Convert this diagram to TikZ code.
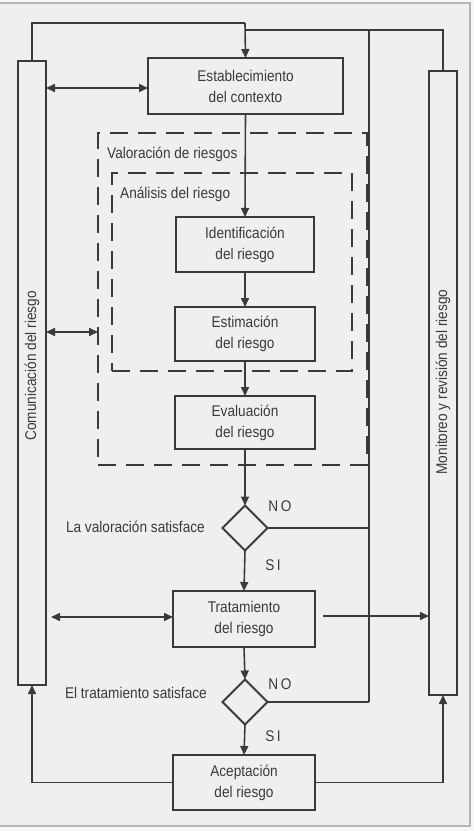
\documentclass[tikz,border=0pt]{standalone}
\usepackage{fontspec}
\setmainfont{Liberation Sans}[FakeStretch=0.88]
\usetikzlibrary{arrows.meta,shapes.geometric,calc}
\definecolor{lnc}{HTML}{3A3A3A}
\definecolor{bgc}{HTML}{EFEFEF}
\definecolor{outc}{HTML}{F6F6F6}
\definecolor{frc}{HTML}{B5B5B5}
\begin{document}
\begin{tikzpicture}[x=1pt,y=-1pt,
  every node/.style={font=\fontsize{15.5}{21}\selectfont, text=lnc},
  box/.style={draw=lnc, line width=1.8pt, minimum width=141pt, minimum height=55pt, align=center, inner sep=0pt, outer sep=0pt},
  bar/.style={draw=lnc, line width=1.6pt, minimum width=28pt, inner sep=0pt, outer sep=0pt},
  dbox/.style={draw=lnc, line width=1.8pt, dash pattern=on 18pt off 10pt, inner sep=0pt, outer sep=0pt},
  dia/.style={diamond, draw=lnc, line width=1.8pt, minimum width=45pt, minimum height=45pt, inner sep=0pt, outer sep=0pt},
  wire/.style={draw=lnc, line width=1.6pt},
  ar/.style={wire, -{Triangle[length=9pt,width=8pt]}},
  dar/.style={wire, {Triangle[length=9pt,width=8pt]}-{Triangle[length=9pt,width=8pt]}},
  lbl/.style={inner sep=0pt}
]
\useasboundingbox (0,0) rectangle (474,831);
\fill[outc] (0,0) rectangle (474,831);
\fill[bgc] (-5,3) rectangle (470,826);
\draw[frc, line width=2pt] (-5,3) rectangle (470,826);

% bars
\node[bar, minimum height=624pt] (leftbar) at (32,373) {};
\node[bar, minimum height=624pt] (rightbar) at (443,383) {};
\node[lbl, rotate=90] (ltext) at (32,366) {Comunicación del riesgo};
\node[lbl, rotate=90] (rtext) at (443,382) {Monitoreo y revisión del riesgo};

% dashed groups
\node[dbox, minimum width=269pt, minimum height=332pt] (valor) at (232.5,299) {};
\node[dbox, minimum width=240pt, minimum height=198pt] (analisis) at (232,272) {};
\node[lbl, anchor=west] (valorl) at (107,154) {Valoración de riesgos};
\node[lbl, anchor=west] (analisisl) at (120,194) {Análisis del riesgo};

% boxes
\node[box, minimum width=195pt, minimum height=56pt] (est) at (245.5,86) {Establecimiento\\del contexto};
\node[box, minimum width=138pt] (ident) at (245,244.5) {Identificación\\del riesgo};
\node[box, minimum width=140pt, minimum height=54pt] (estim) at (245,334) {Estimación\\del riesgo};
\node[box, minimum width=140pt, minimum height=53pt] (evalu) at (245,422.5) {Evaluación\\del riesgo};
\node[dia] (d1) at (245,528) {};
\node[box, minimum width=142pt, minimum height=56pt] (trat) at (244,619) {Tratamiento\\del riesgo};
\node[dia] (d2) at (245,702) {};
\node[box, minimum width=142pt, minimum height=55pt] (acep) at (244,782.5) {Aceptación\\del riesgo};

% labels
\node[lbl, anchor=east] (q1) at (205,527) {La valoración satisface};
\node[lbl, anchor=east] (q2) at (207,693) {El tratamiento satisface};
\node[lbl] (no1) at (280,506) {N\,O};
\node[lbl] (si1) at (273,565) {S\,I};
\node[lbl] (no2) at (280,684) {N\,O};
\node[lbl] (si2) at (273,736) {S\,I};

% coordinates
\coordinate (tl) at (32,23);
\coordinate (tm) at (245,23);
\coordinate (jr) at (245,30);
\coordinate (tr) at (443,30);
\coordinate (vx) at (369,30);
\coordinate (vb) at (369,702);
\coordinate (tratout) at (323,616);

% main flow
\draw[wire] (leftbar.north) -- (tl) -- (tm);
\draw[ar] (tm) -- (est.north);
\draw[wire] (jr) -- (tr) -- (rightbar.north);
\draw[wire] (vx) -- (vb);
\draw[ar] (est.south) -- (ident.north);
\draw[ar] (ident.south) -- (estim.north);
\draw[ar] (estim.south) -- (evalu.north);
\draw[ar] (evalu.south) -- (d1.north);
\draw[ar] (d1.south) -- (trat.north);
\draw[ar] (trat.south) -- (d2.north);
\draw[ar] (d2.south) -- (acep.north);
\draw[wire] (d1.east) -- (d1.east -| vx);
\draw[wire] (d2.east) -- (vb);

% side arrows
\draw[dar] ($(leftbar.east |- est.west)+(0,2)$) -- ($(est.west)+(0,2)$);
\draw[dar] (leftbar.east |- 0,332) -- (valor.west |- 0,332);
\draw[dar] ($(leftbar.east |- trat.west)+(5,-2)$) -- ($(trat.west)+(0,-2)$);
\draw[ar] (tratout) -- (rightbar.west |- tratout);
\draw[ar] (acep.west) -| (leftbar.south);
\draw[ar] (acep.east) -| (rightbar.south);
\end{tikzpicture}
\end{document}
